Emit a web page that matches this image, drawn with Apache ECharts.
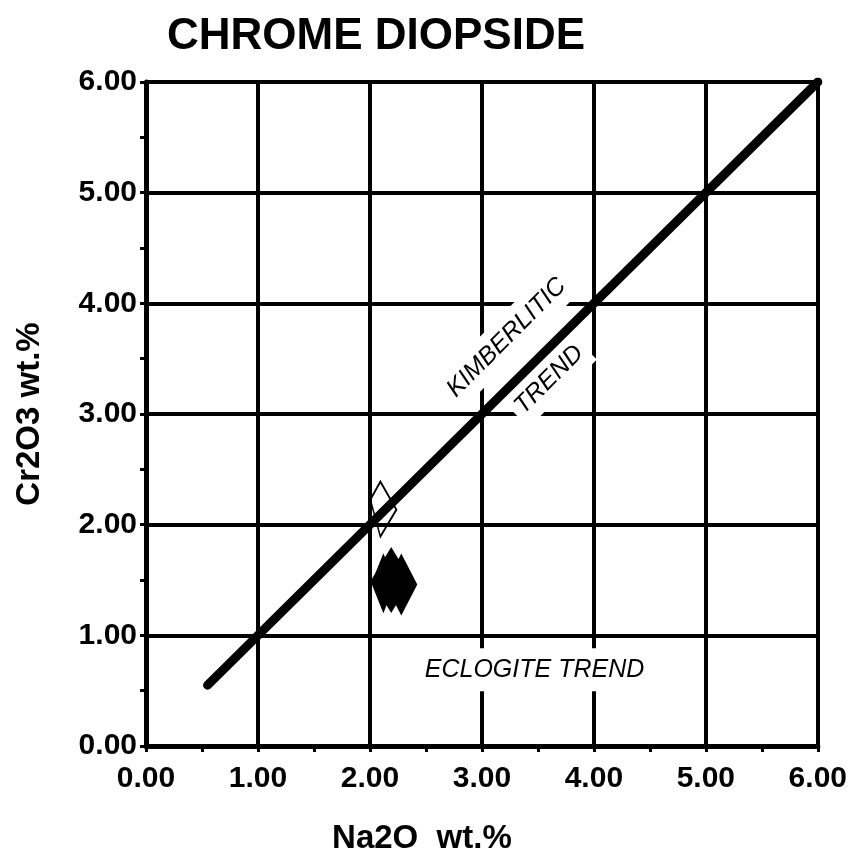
<!DOCTYPE html>
<html>
<head>
<meta charset="utf-8">
<script src="https://cdn.jsdelivr.net/npm/echarts@6/dist/echarts.min.js"></script>
<style>html,body{margin:0;padding:0;background:#fff;}#c{width:850px;height:860px;}</style>
</head>
<body>
<div id="c"></div>
<script>
// ---- data ----
const chartTitle = 'CHROME DIOPSIDE';
const xAxisTitle = 'Na2O  wt.%';
const yAxisTitle = 'Cr2O3 wt.%';
const axisMin = 0, axisMax = 6, axisStep = 1;
const trendLine = [[0.55, 0.55], [6.0, 6.0]];
const openDiamond = [[2.12, 2.14]];
const filledDiamonds = [[2.19, 1.50], [2.28, 1.46], [2.12, 1.47]];
const annotationNames = ['KIMBERLITIC', 'TREND', 'ECLOGITE TREND'];
const annotationPoints = [[3.22, 3.69], [3.60, 3.31], [3.47, 0.69]];
const annotationAngles = [45, 45, 0];

const FONT = '"Liberation Sans", Arial, sans-serif';
const chart = echarts.init(document.getElementById('c'), null, {renderer: 'canvas'});

const axisCommon = {
  type: 'value', min: axisMin, max: axisMax, interval: axisStep,
  axisLine: {show: true, onZero: false, lineStyle: {color: '#000', width: 5}},
  axisTick: {show: true, inside: false, length: 6, lineStyle: {color: '#000', width: 3}},
  minorTick: {show: true, splitNumber: 2, length: 6, lineStyle: {color: '#000', width: 3}},
  splitLine: {show: true, lineStyle: {color: '#000', width: 4}},
  axisLabel: {color: '#000', fontFamily: FONT, fontWeight: 'bold', fontSize: 30,
              formatter: v => v.toFixed(2)},
  nameTextStyle: {color: '#000', fontFamily: FONT, fontWeight: 'bold', fontSize: 33}
};

const option = {
  backgroundColor: '#fff',
  animation: false,
  title: {
    text: chartTitle, left: 162, top: 10,
    textStyle: {color: '#000', fontFamily: FONT, fontWeight: 'bold', fontSize: 44}
  },
  grid: {left: 146, right: 30, top: 82, bottom: 114, containLabel: false},
  xAxis: Object.assign({}, axisCommon, {
    name: xAxisTitle, nameLocation: 'middle', nameGap: 76,
    axisLabel: Object.assign({}, axisCommon.axisLabel, {margin: 18}),
    nameTextStyle: Object.assign({}, axisCommon.nameTextStyle, {padding: [0, 120, 0, 0]})
  }),
  yAxis: Object.assign({}, axisCommon, {
    name: yAxisTitle, nameLocation: 'middle', nameGap: 100, nameRotate: 90,
    axisLabel: Object.assign({}, axisCommon.axisLabel, {margin: 9})
  }),
  series: [
    {
      type: 'scatter', z: 1, silent: true,
      data: annotationPoints.map((p, i) => ({
        value: p,
        label: {
          show: true, position: 'inside', formatter: annotationNames[i],
          rotate: annotationAngles[i], opacity: 1,
          color: '#000', fontFamily: FONT, fontStyle: 'italic', fontSize: 25,
          backgroundColor: '#fff', padding: i === 2 ? [9, 4, 9, 4] : [7, 5, 7, 5]
        }
      })),
      symbolSize: 1, itemStyle: {color: 'rgba(0,0,0,0)', opacity: 1}
    },
    {
      type: 'scatter', z: 2, silent: true,
      data: openDiamond,
      symbol: 'path://M10 0 L26 28 L10 55 L0 18 Z',
      symbolSize: [26, 55],
      itemStyle: {color: 'rgba(255,255,255,0)', borderColor: '#000', borderWidth: 2, opacity: 1}
    },
    {
      type: 'scatter', z: 2, silent: true,
      data: filledDiamonds,
      symbol: 'diamond',
      symbolSize: function (v) { return v[0] > 2.25 ? [32, 62] : (v[0] < 2.15 ? [24, 60] : [40, 66]); },
      itemStyle: {color: '#000', opacity: 1}
    },
    {
      type: 'line', z: 3, silent: true,
      data: trendLine, symbol: 'none',
      lineStyle: {color: '#000', width: 9, cap: 'round'}
    }
  ]
};
chart.setOption(option);
</script>
</body>
</html>
